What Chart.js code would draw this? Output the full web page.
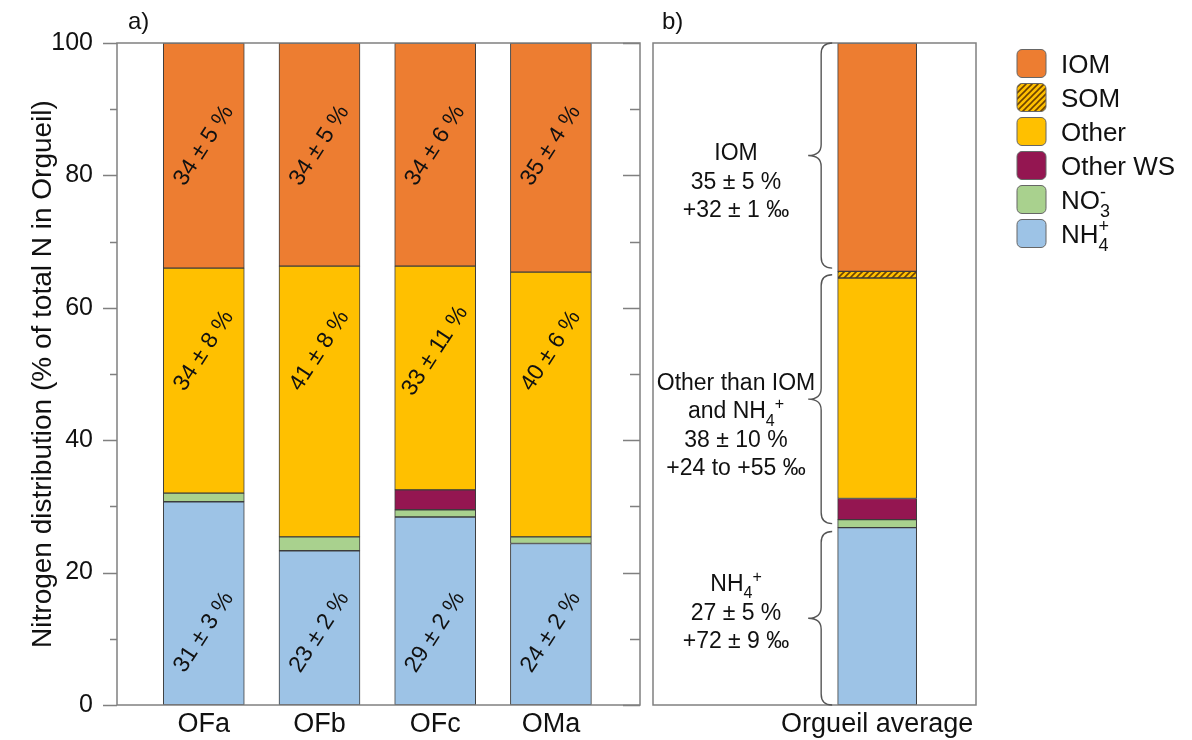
<!DOCTYPE html>
<html>
<head>
<meta charset="utf-8">
<script src="https://cdn.jsdelivr.net/npm/chart.js@4.4.1/dist/chart.umd.min.js"></script>
<style>
  html, body { margin: 0; padding: 0; background: #fff; }
  #wrap { position: relative; width: 1192px; height: 740px; }
  canvas { position: absolute; top: 0; }
  #chartA { left: 0; }
  #chartB { left: 600px; }
</style>
</head>
<body>
<div id="wrap">
  <canvas id="chartA" width="650" height="740"></canvas>
  <canvas id="chartB" width="592" height="740"></canvas>
</div>
<script>
// Panel a: individual samples, % of total N in Orgueil
const samples = ['OFa', 'OFb', 'OFc', 'OMa'];
const nh4A = [30.7, 23.3, 28.4, 24.4];
const no3A = [1.3, 2.1, 1.1, 1.0];
const otherWsA = [null, null, 3.0, null];
const otherA = [34.0, 40.9, 33.8, 40.0];
const iomA = [34.0, 33.7, 33.7, 34.6];

// labels written on the bars
const nh4Text = ['31 ± 3 %', '23 ± 2 %', '29 ± 2 %', '24 ± 2 %'];
const otherText = ['34 ± 8 %', '41 ± 8 %', '33 ± 11 %', '40 ± 6 %'];
const iomText = ['34 ± 5 %', '34 ± 5 %', '34 ± 6 %', '35 ± 4 %'];

// Panel b: Orgueil average
const average = ['Orgueil average'];
const nh4B = [26.8];
const no3B = [1.2];
const otherWsB = [3.2];
const otherB = [33.3];
const somB = [1.0];
const iomB = [34.5];

// brace annotations, bottom to top
const braceText = [
  ['NH_4^+', '27 ± 5 %', '+72 ± 9 ‰'],
  ['Other than IOM', 'and NH_4^+', '38 ± 10 %', '+24 to +55 ‰'],
  ['IOM', '35 ± 5 %', '+32 ± 1 ‰']
];

const yTicks = [0, 10, 20, 30, 40, 50, 60, 70, 80, 90, 100];

const FONT = '"Liberation Sans", Arial, Helvetica, sans-serif';
const INK = '#111';
const FRAME = '#808080';
const EDGE = '#3c3c3c';
const COLOURS = {
  iom: '#ED7D31',
  other: '#FFC000',
  otherWs: '#941651',
  no3: '#A9D18E',
  nh4: '#9DC3E6'
};

// diagonal hatch for SOM
function makeHatch(ctx) {
  const c = document.createElement('canvas');
  c.width = 6; c.height = 6;
  const g = c.getContext('2d');
  g.fillStyle = '#FFC000';
  g.fillRect(0, 0, 6, 6);
  g.strokeStyle = '#6e4300';
  g.lineWidth = 1.6;
  g.beginPath();
  g.moveTo(-1, 7); g.lineTo(7, -1);
  g.moveTo(-1, 1); g.lineTo(1, -1);
  g.moveTo(5, 7); g.lineTo(7, 5);
  g.stroke();
  return ctx.createPattern(c, 'repeat');
}

// "_x" = subscript char, "^x" = superscript char
function parseRich(s) {
  const parts = [];
  for (let i = 0; i < s.length; i++) {
    const c = s[i];
    if ((c === '_' || c === '^') && i + 1 < s.length) {
      parts.push({ t: s[i + 1], k: c === '_' ? 'sub' : 'sup' });
      i++;
    } else {
      const last = parts[parts.length - 1];
      if (last && last.k === 'n') last.t += c;
      else parts.push({ t: c, k: 'n' });
    }
  }
  return parts;
}

function drawRich(ctx, s, x, midY, size, align, stacked) {
  const parts = parseRich(s);
  const small = Math.round(size * 0.68);
  let cursor = 0;
  const items = [];
  parts.forEach(p => {
    ctx.font = (p.k === 'n' ? size : small) + 'px ' + FONT;
    const w = ctx.measureText(p.t).width;
    const prev = items[items.length - 1];
    if (stacked && p.k !== 'n' && prev && prev.k !== 'n' && prev.k !== p.k) {
      items.push({ ...p, x: prev.x });
      cursor = Math.max(cursor, prev.x + w);
    } else {
      items.push({ ...p, x: cursor });
      cursor += w;
    }
  });
  const start = align === 'center' ? x - cursor / 2 : x;
  const base = midY + size * 0.36;
  ctx.textAlign = 'left';
  ctx.textBaseline = 'alphabetic';
  items.forEach(p => {
    ctx.font = (p.k === 'n' ? size : small) + 'px ' + FONT;
    let dy = 0;
    if (p.k === 'sub') dy = size * 0.32;
    if (p.k === 'sup') dy = stacked ? -size * 0.42 : -size * 0.38;
    ctx.fillText(p.t, start + p.x, base + dy);
  });
}

function drawBrace(ctx, x, yTop, yBot, curl, tip) {
  const mid = (yTop + yBot) / 2;
  ctx.beginPath();
  ctx.moveTo(x + curl, yTop);
  ctx.quadraticCurveTo(x, yTop, x, yTop + curl);
  ctx.lineTo(x, mid - curl);
  ctx.quadraticCurveTo(x, mid, x - tip, mid);
  ctx.quadraticCurveTo(x, mid, x, mid + curl);
  ctx.lineTo(x, yBot - curl);
  ctx.quadraticCurveTo(x, yBot, x + curl, yBot);
  ctx.stroke();
}

function toPoints(values) {
  return values.map((v, i) => ({ x: i, y: v }));
}

function barSet(label, values, colour, thickness) {
  return {
    label: label,
    data: toPoints(values),
    backgroundColor: colour,
    borderColor: EDGE,
    borderWidth: 1,
    borderSkipped: false,
    barThickness: thickness
  };
}

const panelA = {
  id: 'panelA',
  afterDraw(chart) {
    const { ctx, chartArea: a, scales: { x, y } } = chart;
    ctx.save();
    ctx.strokeStyle = FRAME;
    ctx.lineWidth = 1.5;
    ctx.strokeRect(a.left, a.top, a.right - a.left, a.bottom - a.top);
    yTicks.forEach(v => {
      const py = Math.round(y.getPixelForValue(v)) + 0.5;
      const major = v % 20 === 0;
      ctx.beginPath();
      ctx.moveTo(a.left - (major ? 14 : 7), py);
      ctx.lineTo(a.left, py);
      ctx.moveTo(a.right, py);
      ctx.lineTo(a.right - (major ? 17 : 10), py);
      ctx.stroke();
    });

    // rotated values on the bars
    ctx.fillStyle = INK;
    ctx.font = '23px ' + FONT;
    ctx.textAlign = 'center';
    ctx.textBaseline = 'middle';
    [[nh4Text, 11], [otherText, 53.5], [iomText, 84.5]].forEach(([texts, level]) => {
      texts.forEach((t, i) => {
        ctx.save();
        ctx.translate(x.getPixelForValue(i), y.getPixelForValue(level));
        ctx.rotate(-57 * Math.PI / 180);
        ctx.fillText(t, 0, 0);
        ctx.restore();
      });
    });

    ctx.font = '24px ' + FONT;
    ctx.textAlign = 'left';
    ctx.fillText('a)', 128, 22);
    ctx.restore();
  }
};

const panelB = {
  id: 'panelB',
  afterDraw(chart) {
    const { ctx, chartArea: a, scales: { x, y } } = chart;
    ctx.save();
    ctx.strokeStyle = FRAME;
    ctx.lineWidth = 1.5;
    ctx.strokeRect(a.left, a.top, a.right - a.left, a.bottom - a.top);

    // braces grouping NH4+, other, IOM
    const nh4Top = nh4B[0];
    const iomBottom = 100 - iomB[0];
    const ranges = [[0, nh4Top - 0.6], [nh4Top + 0.6, iomBottom - 0.5], [iomBottom + 0.5, 100]];
    const shift = [-7, 25, 25];
    const bx = x.getPixelForValue(0) - 56;
    ctx.fillStyle = INK;
    ranges.forEach(([lo, hi], k) => {
      const yTop = y.getPixelForValue(hi);
      const yBot = y.getPixelForValue(lo);
      ctx.strokeStyle = '#555';
      ctx.lineWidth = 1.4;
      drawBrace(ctx, bx, yTop, yBot, 11, 13);
      const lines = braceText[k];
      const lh = 28.5;
      const centre = (yTop + yBot) / 2 + shift[k];
      lines.forEach((t, j) => {
        drawRich(ctx, t, a.left + 83, centre + (j - (lines.length - 1) / 2) * lh, 23, 'center', false);
      });
    });

    // legend, top entry first
    const sets = chart.data.datasets.slice().reverse();
    sets.forEach((d, i) => {
      const cy = 63.5 + 34 * i;
      ctx.beginPath();
      ctx.roundRect(a.right + 41, cy - 14, 29, 28, 5);
      ctx.fillStyle = d.backgroundColor;
      ctx.fill();
      ctx.strokeStyle = '#666';
      ctx.lineWidth = 1;
      ctx.stroke();
      ctx.fillStyle = INK;
      drawRich(ctx, d.label, a.right + 85, cy, 26, 'left', true);
    });

    ctx.fillStyle = INK;
    ctx.font = '24px ' + FONT;
    ctx.textAlign = 'left';
    ctx.textBaseline = 'middle';
    ctx.fillText('b)', 62, 22);
    ctx.restore();
  }
};

const chartA = new Chart(document.getElementById('chartA'), {
  type: 'bar',
  data: {
    datasets: [
      barSet('NH_4^+', nh4A, COLOURS.nh4, 81),
      barSet('NO_3^-', no3A, COLOURS.no3, 81),
      barSet('Other WS', otherWsA, COLOURS.otherWs, 81),
      barSet('Other', otherA, COLOURS.other, 81),
      barSet('IOM', iomA, COLOURS.iom, 81)
    ]
  },
  options: {
    responsive: false,
    animation: false,
    layout: { padding: { top: 43, right: 10, left: 0, bottom: 0 } },
    plugins: { legend: { display: false }, tooltip: { enabled: false } },
    scales: {
      x: {
        type: 'linear',
        min: -0.75,
        max: 3.77,
        offset: false,
        stacked: true,
        border: { display: false },
        grid: { display: false, drawTicks: false, offset: false },
        afterBuildTicks: s => { s.ticks = samples.map((_, i) => ({ value: i })); },
        ticks: {
          padding: 3,
          autoSkip: false,
          maxRotation: 0,
          color: INK,
          font: { family: FONT, size: 27 },
          callback: v => samples[v]
        },
        afterFit: s => { s.height = 35; }
      },
      y: {
        min: 0,
        max: 100,
        stacked: true,
        border: { display: false },
        grid: { display: false, drawTicks: false },
        afterBuildTicks: s => { s.ticks = yTicks.map(v => ({ value: v })); },
        ticks: {
          padding: 24,
          autoSkip: false,
          color: INK,
          font: { family: FONT, size: 25 },
          callback: v => (v % 20 === 0 ? v : '')
        },
        title: {
          display: true,
          text: 'Nitrogen distribution (% of total N in Orgueil)',
          color: INK,
          font: { family: FONT, size: 28 },
          padding: { top: 26, bottom: 0 }
        },
        afterFit: s => {
          s.width = 117;
          s.paddingTop = 0;
          s.paddingBottom = 0;
        }
      }
    }
  },
  plugins: [panelA]
});

const ctxB = document.getElementById('chartB').getContext('2d');
const chartB = new Chart(ctxB, {
  type: 'bar',
  data: {
    datasets: [
      barSet('NH_4^+', nh4B, COLOURS.nh4, 79),
      barSet('NO_3^-', no3B, COLOURS.no3, 79),
      barSet('Other WS', otherWsB, COLOURS.otherWs, 79),
      barSet('Other', otherB, COLOURS.other, 79),
      barSet('SOM', somB, makeHatch(ctxB), 79),
      barSet('IOM', iomB, COLOURS.iom, 79)
    ]
  },
  options: {
    responsive: false,
    animation: false,
    layout: { padding: { top: 43, right: 216, left: 53, bottom: 0 } },
    plugins: { legend: { display: false }, tooltip: { enabled: false } },
    scales: {
      x: {
        type: 'linear',
        min: -0.694,
        max: 0.306,
        offset: false,
        stacked: true,
        border: { display: false },
        grid: { display: false, drawTicks: false, offset: false },
        afterBuildTicks: s => { s.ticks = average.map((_, i) => ({ value: i })); },
        ticks: {
          padding: 3,
          autoSkip: false,
          maxRotation: 0,
          color: INK,
          font: { family: FONT, size: 27 },
          callback: v => average[v]
        },
        afterFit: s => { s.height = 35; }
      },
      y: {
        display: false,
        min: 0,
        max: 100,
        stacked: true
      }
    }
  },
  plugins: [panelB]
});
</script>
</body>
</html>
